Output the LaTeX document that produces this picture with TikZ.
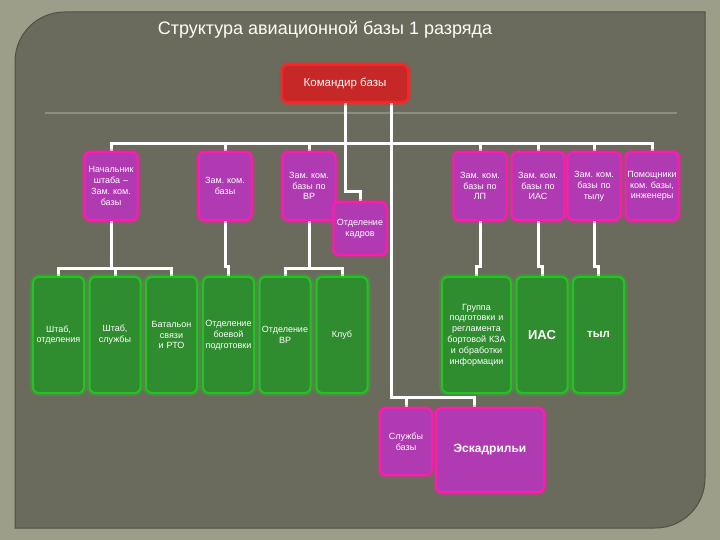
\documentclass[tikz,border=0pt]{standalone}
\usepackage{fontspec}
\setmainfont{Liberation Sans}
\frenchspacing
\usepackage{tikz}
\usetikzlibrary{calc, backgrounds}
\definecolor{panel}{HTML}{6A6B5D}
\definecolor{frame}{HTML}{9C9E8A}
\definecolor{panelrule}{HTML}{8C8E7E}
\definecolor{pinkfill}{HTML}{B03AB2}
\definecolor{pinkedge}{HTML}{FF1AB0}
\definecolor{greenfill}{HTML}{2F8C2F}
\definecolor{greenedge}{HTML}{22C322}
\definecolor{redfill}{HTML}{C62828}
\definecolor{rededge}{HTML}{FF2222}
\tikzset{
  box/.style={rounded corners=6pt, line width=2pt, text=white, align=center, inner sep=1pt,
    font=\fontsize{9}{10.8}\selectfont},
  pinkbox/.style={box, draw=pinkedge, fill=pinkfill, text width=51pt, minimum height=68pt,
    preaction={draw=pinkedge, line width=6pt, opacity=.3}},
  greenbox/.style={box, draw=greenedge, fill=greenfill, text width=49pt, minimum height=116pt,
    preaction={draw=greenedge, line width=6pt, opacity=.3}},
  redbox/.style={box, draw=rededge, fill=redfill, minimum width=126pt, minimum height=37pt,
    font=\fontsize{11.5}{13}\selectfont, preaction={draw=rededge, line width=6pt, opacity=.3}},
  link/.style={white, line width=3pt, line cap=rect}
}
\begin{document}
\begin{tikzpicture}[x=1pt,y=-1pt]
    \useasboundingbox (0,0) rectangle (720,540);
    \node [text=white, font=\fontsize{18}{21}\selectfont] (title) at (325,30) {Структура авиационной базы 1 разряда};

    \node [redbox] (kom) at (345,83.5) {Командир базы};

    \node [pinkbox] (nsh) at (111,186) {Начальник\\штаба –\\Зам. ком.\\базы};
    \node [pinkbox] (zkb) at (225,186) {Зам. ком.\\базы};
    \node [pinkbox] (zvr) at (309,186) {Зам. ком.\\базы по\\ВР};
    \node [pinkbox] (zlp) at (480,186) {Зам. ком.\\базы по\\ЛП};
    \node [pinkbox] (zias) at (538,186) {Зам. ком.\\базы по\\ИАС};
    \node [pinkbox] (zty) at (594,186) {Зам. ком.\\базы по\\тылу};
    \node [pinkbox] (pom) at (652,186) {Помощники\\ком. базы,\\инженеры};
    \node [pinkbox, minimum height=53pt] (kadr) at (360,228.5) {Отделение\\кадров};

    \node [greenbox] (shotd) at (58.5,335) {Штаб,\\отделения};
    \node [greenbox] (shsl) at (115,335) {Штаб,\\службы};
    \node [greenbox] (bat) at (171.5,335) {Батальон\\связи\\и РТО};
    \node [greenbox] (obp) at (228.5,335) {Отделение\\боевой\\подготовки};
    \node [greenbox] (ovr) at (285,335) {Отделение\\ВР};
    \node [greenbox] (klub) at (342,335) {Клуб};
    \node [greenbox, text width=67pt] (grp) at (476.5,335) {Группа\\подготовки и\\регламента\\бортовой КЗА\\и обработки\\информации};
    \node [greenbox, font=\fontsize{13}{15}\bfseries] (ias) at (542,335) {ИАС};
    \node [greenbox, font=\fontsize{11.5}{14}\bfseries] (tyl) at (598.5,335) {тыл};

    \node [pinkbox, text width=50pt, minimum height=67pt] (sluzh) at (406,441.5) {Службы\\базы};
    \node [pinkbox, text width=106pt, minimum height=84pt, font=\fontsize{12}{14}\bfseries] (esk) at (490,450) {Эскадрильи};

    \begin{scope}[on background layer]
        \fill [frame] (0,0) rectangle (720,540);
        \fill [panel, draw=black!25!panel, line width=1pt] (15,62) .. controls (15,34) and (37,12) .. (65,12) -- (705,12) -- (705,478) .. controls (705,506) and (683,528) .. (655,528) -- (15,528) -- cycle;
        \draw [panelrule, line width=1.2pt] (45,113) -- (677,113);

        \coordinate (bus) at (0,144);
        \coordinate (lbus) at (0,268);
        \coordinate (sbus) at (474,397);

        \draw [link] (kom.south) |- ($(kadr.north)+(0,-9)$) -| (kadr.north);
        \draw [link] (nsh.north |- bus) -- (pom.north |- bus);
        \foreach \n in {nsh,zkb,zvr,zlp,zias,zty,pom}
            \draw [link] (\n.north |- bus) -- (\n.north);
        \draw [link] ($(kom.south)+(46,0)$) |- (sbus) -- (sbus |- esk.north);
        \draw [link] (sluzh.north |- sbus) -- (sluzh.north);

        \draw [link] (nsh.south) -- (nsh.south |- lbus);
        \draw [link] (shotd.north |- lbus) -- (bat.north |- lbus);
        \foreach \n in {shotd,shsl,bat}
            \draw [link] (\n.north |- lbus) -- (\n.north);
        \draw [link] (zvr.south) -- (zvr.south |- lbus);
        \draw [link] (ovr.north |- lbus) -- (klub.north |- lbus);
        \foreach \n in {ovr,klub}
            \draw [link] (\n.north |- lbus) -- (\n.north);
        \foreach \a/\b in {zkb/obp,zlp/grp,zias/ias,zty/tyl}
            \draw [link] (\a.south) |- ($(\b.north)+(0,-10)$) -| (\b.north);
    \end{scope}
\end{tikzpicture}
\end{document}
